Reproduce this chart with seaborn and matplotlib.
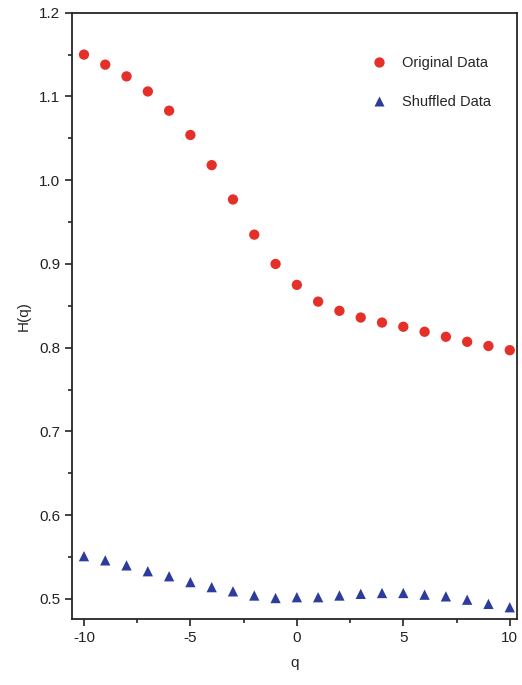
import numpy as np
import pandas as pd
import matplotlib.pyplot as plt
from matplotlib.ticker import MultipleLocator
import seaborn as sns

# values
q = list(range(-10, 11))
h_original = [1.150, 1.138, 1.124, 1.106, 1.083, 1.054, 1.018, 0.977, 0.935, 0.900, 0.875,
              0.855, 0.844, 0.836, 0.830, 0.825, 0.819, 0.813, 0.807, 0.802, 0.797]
h_shuffled = [0.551, 0.546, 0.540, 0.533, 0.527, 0.520, 0.514, 0.509, 0.504, 0.501, 0.502,
              0.502, 0.504, 0.506, 0.507, 0.507, 0.505, 0.503, 0.499, 0.494, 0.490]

df = pd.concat([
    pd.DataFrame({'q': q, 'H(q)': h_original, 'Series': 'Original Data'}),
    pd.DataFrame({'q': q, 'H(q)': h_shuffled, 'Series': 'Shuffled Data'}),
])

sns.set_style('ticks')
plt.rcParams['font.family'] = ['Liberation Sans', 'DejaVu Sans']
plt.rcParams['axes.unicode_minus'] = False

fig = plt.figure(figsize=(5.22, 6.85), dpi=100)
ax = fig.add_axes([0.138, 0.0964, 0.852, 0.885])

sns.scatterplot(data=df, x='q', y='H(q)', hue='Series', style='Series',
                palette={'Original Data': '#e5302a', 'Shuffled Data': '#2d3c9c'},
                markers={'Original Data': 'o', 'Shuffled Data': '^'},
                s=55, edgecolor='none', ax=ax)

ax.set_xlim(-10.56, 10.33)
ax.set_ylim(0.476, 1.2)
ax.xaxis.set_major_locator(MultipleLocator(5))
ax.xaxis.set_minor_locator(MultipleLocator(2.5))
ax.yaxis.set_major_locator(MultipleLocator(0.1))
ax.yaxis.set_minor_locator(MultipleLocator(0.05))
ax.yaxis.set_major_formatter(plt.FuncFormatter(lambda v, p: f'{v:.1f}'))
ax.tick_params(which='major', length=5, width=1.2, labelsize=11, colors='#222222')
ax.tick_params(which='minor', length=3, width=1.2)
for sp in ax.spines.values():
    sp.set_linewidth(1.3)
    sp.set_visible(True)

ax.set_xlabel('q', fontsize=11, labelpad=8)
ax.set_ylabel('H(q)', fontsize=11, labelpad=6)

leg = ax.legend(loc='upper left', bbox_to_anchor=(0.628, 0.950), frameon=False,
                fontsize=10.5, labelspacing=1.7, handletextpad=0.6, markerscale=1.0)
leg.set_title(None)

fig.savefig('out.png', dpi=100)
